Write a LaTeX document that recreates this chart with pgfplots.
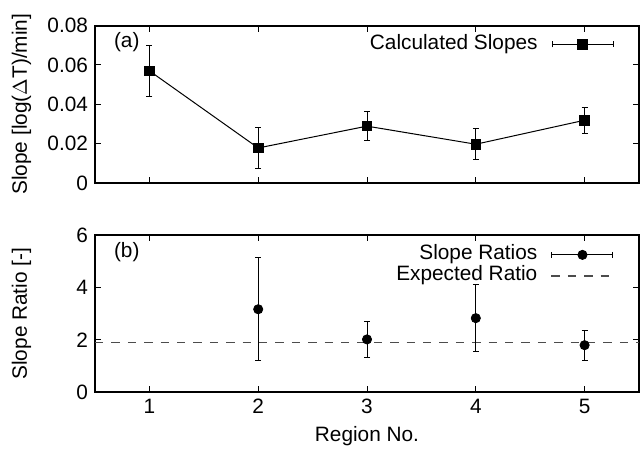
\documentclass[border=0pt]{standalone}
\usepackage{fontspec}
\setmainfont{Liberation Sans}
\usepackage{pgfplots}
\pgfplotsset{compat=1.18}
\usetikzlibrary{arrows.meta}

\pgfplotsset{
  panel/.style={
    scale only axis, width=272pt, height=78.7pt,
    xmin=0.5, xmax=5.5, xtick={1,2,3,4,5},
    tick align=inside, tick pos=both,
    major tick length=3pt,
    axis line style={line width=1pt},
    every tick/.style={black, line width=0.5pt},
    /pgf/number format/assume math mode=true,
    ylabel style={at={(axis description cs:-0.135,0.5)}, anchor=center},
    legend cell align=right, legend plot pos=right,
    legend style={draw=none, fill=none, inner sep=0pt, row sep=0pt,
      column sep=6.5pt, anchor=north east,
      nodes={text height=7.5pt, text depth=2.5pt, inner sep=0.25pt}},
  },
}

\begin{document}
\begin{tikzpicture}[font=\fontsize{10.4}{12}\selectfont]
% fixed page size, in the reference's proportions
\path (-47.5pt,91.5pt) rectangle (273pt,-132pt);

% --- (a) slopes ---
\begin{axis}[panel,
    ymin=0, ymax=0.08, ytick={0,0.02,0.04,0.06,0.08},
    scaled y ticks=false,
    yticklabel style={/pgf/number format/fixed, /pgf/number format/precision=2},
    xticklabels={},
    ylabel={Slope [log($\Delta$T)/min]},
    legend style={at={(rel axis cs:0.955,0.95)}},
]
\addplot[black, line width=0.5pt, mark=square*, mark size=2.4pt,
    legend image code/.code={
      \draw[line width=0.5pt,{Bar[width=3pt]}-{Bar[width=3pt]}] (0pt,0pt) -- (31pt,0pt);
      \draw[mark=square*, mark size=2.4pt] plot coordinates {(15.5pt,0pt)};
    },
    error bars/y dir=both, error bars/y explicit,
    error bars/error bar style={line width=0.5pt},
    error bars/error mark options={rotate=90, mark size=1.5pt, line width=0.5pt},
] coordinates {
    (1,0.0570) +- (0,0.0130)
    (2,0.0178) +- (0,0.0104)
    (3,0.0289) +- (0,0.0073)
    (4,0.0197) +- (0,0.0078)
    (5,0.0319) +- (0,0.0066)
};
\addlegendentry{Calculated Slopes}
\node[anchor=west] at (rel axis cs:0.022,0.896) {(a)};
\end{axis}

% --- (b) ratios ---
\begin{axis}[panel, at={(0pt,-26pt)}, anchor=north west,
    ymin=0, ymax=6, ytick={0,2,4,6},
    xlabel={Region No.},
    xlabel style={at={(axis description cs:0.5,-0.278)}, anchor=center},
    ylabel={Slope Ratio [-]},
    legend style={at={(rel axis cs:0.955,0.943)}},
]
\addplot[black!70, line width=0.65pt, dash pattern=on 4.2pt off 4pt, forget plot]
    coordinates {(0.5,1.9) (5.5,1.9)};
\addplot[black, only marks, mark=*, mark size=2.3pt,
    legend image code/.code={
      \draw[line width=0.5pt,{Bar[width=3pt]}-{Bar[width=3pt]}] (0pt,0pt) -- (31pt,0pt);
      \draw[mark=*, mark size=2.3pt] plot coordinates {(15.5pt,0pt)};
    },
    error bars/y dir=both, error bars/y explicit,
    error bars/error bar style={line width=0.5pt},
    error bars/error mark options={rotate=90, mark size=1.5pt, line width=0.5pt},
] coordinates {
    (2,3.17) +- (0,1.96)
    (3,2.02) +- (0,0.69)
    (4,2.83) +- (0,1.27)
    (5,1.80) +- (0,0.57)
};
\addlegendentry{Slope Ratios}
\addlegendimage{black!70, line width=0.65pt, dash pattern=on 4.2pt off 4pt,
    legend image code/.code={\draw[black!70, line width=0.65pt, dash pattern=on 4.2pt off 4pt] (0pt,0pt) -- (31pt,0pt);}}
\addlegendentry{Expected Ratio}
\node[anchor=west] at (rel axis cs:0.022,0.89) {(b)};
\end{axis}
\end{tikzpicture}
\end{document}
